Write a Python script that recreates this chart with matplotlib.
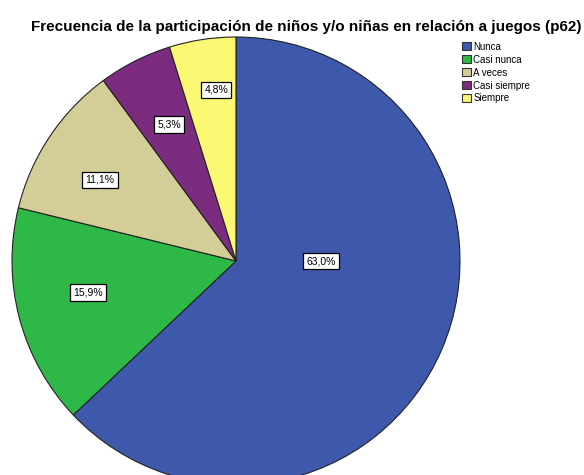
import matplotlib
matplotlib.use("Agg")
import matplotlib.pyplot as plt
import numpy as np
from matplotlib.patches import Patch

categories = ["Nunca", "Casi nunca", "A veces", "Casi siempre", "Siempre"]
values = [63.0, 15.9, 11.1, 5.3, 4.8]
colors = ["#3E58AC", "#2EB848", "#D3CE97", "#7B2C7F", "#FBF873"]
title = "Frecuencia de la participación de niños y/o niñas en relación a juegos (p62)"

plt.rcParams['font.family'] = ['Liberation Sans', 'DejaVu Sans']

W, H = 584, 475
fig = plt.figure(figsize=(W / 100, H / 100), dpi=100)
ax = fig.add_axes([0, 0, 1, 1])

cx, cy, r = 236, H - 261, 224
wedges, _ = ax.pie(values, colors=colors, startangle=90, counterclock=False,
                   center=(cx, cy), radius=r, frame=True,
                   wedgeprops=dict(edgecolor='#222222', linewidth=0.8))
ax.set_xlim(0, W)
ax.set_ylim(0, H)
ax.set_aspect('auto')
ax.axis('off')

# label placement (polar angle in degrees, radial fraction of the radius)
label_r = [0.38, 0.674, 0.707, 0.678, 0.769]
label_ang = [0.0, 192.0, 149.2, 116.1, 96.6]
for i, (w, v) in enumerate(zip(wedges, values)):
    ang = np.deg2rad(label_ang[i])
    x = cx + label_r[i] * r * np.cos(ang)
    y = cy + label_r[i] * r * np.sin(ang)
    ax.text(x, y, f"{v:.1f}%".replace('.', ','), ha='center', va='center',
            fontsize=7.5, color='black',
            bbox=dict(boxstyle='square,pad=0.3', facecolor='white',
                      edgecolor='black', linewidth=0.9))

fig.text(306 / W, 1 - 27 / H, title, ha='center', va='center',
         fontsize=11, fontweight='bold')

handles = [Patch(facecolor=c, edgecolor='#333333', linewidth=0.8) for c in colors]
leg = fig.legend(handles, categories, loc='upper left',
                 bbox_to_anchor=(455 / W, 1 - 35 / H), frameon=False,
                 fontsize=7, handlelength=0.9, handleheight=0.9,
                 handletextpad=0.3, labelspacing=0.3, borderpad=0.2)

fig.savefig("out.png", dpi=100)
